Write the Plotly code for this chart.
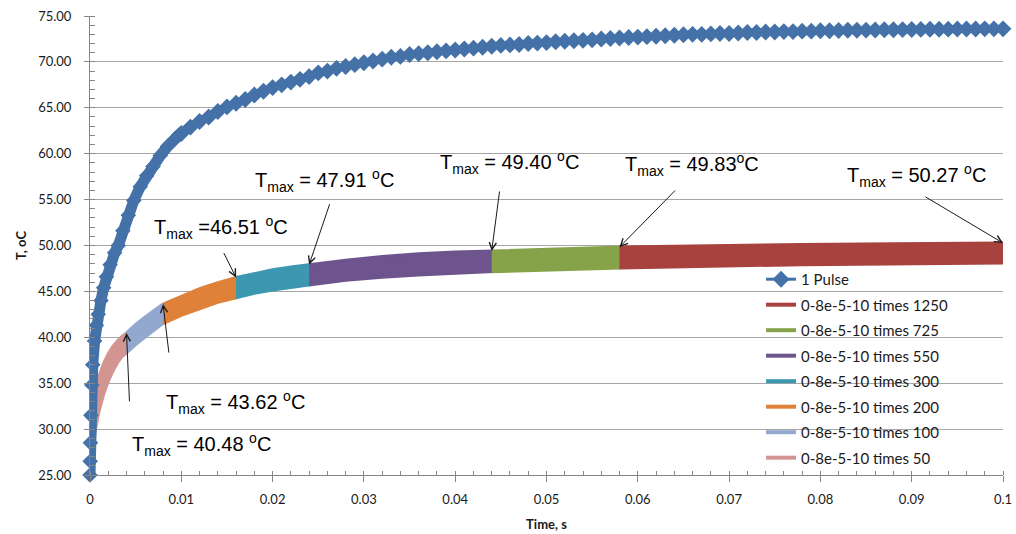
import plotly.graph_objects as go

# ---------------- data ----------------
# 1 Pulse : dense early part
pulse_t_dense = [0.0, 0.00002, 0.00005, 0.0001, 0.0002, 0.0003, 0.0005, 0.0007, 0.0009,
                 0.0012, 0.0015, 0.0018, 0.0022, 0.0027, 0.0031, 0.0036, 0.0042, 0.0048, 0.0055,
                 0.0062, 0.0069, 0.0077, 0.0085, 0.0093, 0.0097]
pulse_T_dense = [25.0, 26.5, 28.5, 31.5, 34.8, 37.0, 39.6, 41.3, 42.5,
                 44.0, 45.4, 46.6, 47.9, 49.2, 50.0, 51.6, 53.3, 54.9, 56.4,
                 57.6, 58.6, 59.8, 60.8, 61.6, 62.0]
# 1 Pulse : sampled every 1 ms afterwards
pulse_t = [0.010, 0.011, 0.012, 0.013, 0.014, 0.015, 0.016, 0.017, 0.018, 0.019,
           0.020, 0.021, 0.022, 0.023, 0.024, 0.025, 0.026, 0.027, 0.028, 0.029,
           0.030, 0.031, 0.032, 0.033, 0.034, 0.035, 0.036, 0.037, 0.038, 0.039,
           0.040, 0.041, 0.042, 0.043, 0.044, 0.045, 0.046, 0.047, 0.048, 0.049,
           0.050, 0.051, 0.052, 0.053, 0.054, 0.055, 0.056, 0.057, 0.058, 0.059,
           0.060, 0.061, 0.062, 0.063, 0.064, 0.065, 0.066, 0.067, 0.068, 0.069,
           0.070, 0.071, 0.072, 0.073, 0.074, 0.075, 0.076, 0.077, 0.078, 0.079,
           0.080, 0.081, 0.082, 0.083, 0.084, 0.085, 0.086, 0.087, 0.088, 0.089,
           0.090, 0.091, 0.092, 0.093, 0.094, 0.095, 0.096, 0.097, 0.098, 0.099, 0.100]
pulse_T = [62.2, 62.9, 63.5, 64.0, 64.6, 65.1, 65.5, 65.9, 66.4, 66.8,
           67.2, 67.5, 67.8, 68.1, 68.4, 68.8, 69.0, 69.3, 69.5, 69.7,
           69.9, 70.1, 70.3, 70.5, 70.6, 70.8, 70.9, 71.0, 71.1, 71.2,
           71.3, 71.4, 71.5, 71.6, 71.7, 71.8, 71.85, 71.9, 72.0, 72.05,
           72.1, 72.2, 72.25, 72.3, 72.35, 72.4, 72.5, 72.55, 72.6, 72.65,
           72.7, 72.75, 72.8, 72.85, 72.9, 72.95, 73.0, 73.0, 73.05, 73.1,
           73.1, 73.15, 73.2, 73.2, 73.25, 73.25, 73.3, 73.3, 73.35, 73.35,
           73.4, 73.4, 73.42, 73.44, 73.45, 73.46, 73.48, 73.5, 73.5, 73.52,
           73.53, 73.54, 73.55, 73.56, 73.57, 73.58, 73.58, 73.59, 73.6, 73.6, 73.6]

# pulse-train segments: time, upper (max) and lower (min) envelope
seg_names = ["0-8e-5-10 times 50", "0-8e-5-10 times 100", "0-8e-5-10 times 200",
             "0-8e-5-10 times 300", "0-8e-5-10 times 550", "0-8e-5-10 times 725",
             "0-8e-5-10 times 1250"]
seg_t = [
    [0.0, 0.0001, 0.0003, 0.0006, 0.001, 0.0015, 0.002, 0.0025, 0.003, 0.0035, 0.004],
    [0.004, 0.005, 0.006, 0.007, 0.008],
    [0.008, 0.010, 0.012, 0.014, 0.016],
    [0.016, 0.018, 0.020, 0.022, 0.024],
    [0.024, 0.028, 0.032, 0.036, 0.040, 0.044],
    [0.044, 0.049, 0.054, 0.058],
    [0.058, 0.068, 0.078, 0.088, 0.100],
]
seg_upper = [
    [26.5, 29.5, 32.0, 34.0, 35.8, 37.2, 38.2, 39.0, 39.6, 40.1, 40.48],
    [40.48, 41.4, 42.2, 42.95, 43.62],
    [43.62, 44.5, 45.3, 45.95, 46.51],
    [46.51, 46.95, 47.35, 47.65, 47.91],
    [47.91, 48.4, 48.8, 49.1, 49.3, 49.40],
    [49.40, 49.55, 49.7, 49.83],
    [49.83, 50.0, 50.12, 50.2, 50.27],
]
seg_lower = [
    [25.8, 26.5, 28.0, 30.0, 32.0, 33.8, 35.2, 36.3, 37.2, 37.9, 38.3],
    [38.3, 39.2, 40.0, 40.8, 41.5],
    [41.5, 42.4, 43.1, 43.8, 44.3],
    [44.3, 44.8, 45.15, 45.45, 45.7],
    [45.7, 46.2, 46.55, 46.8, 47.0, 47.15],
    [47.15, 47.3, 47.45, 47.55],
    [47.55, 47.75, 47.9, 48.0, 48.1],
]
seg_colors = ["#D39592", "#93A8CE", "#DF8139", "#3C97B0", "#6E548D", "#86A349", "#A8423F"]

# Tmax labels
tmax_t = [0.004, 0.008, 0.016, 0.024, 0.044, 0.058, 0.100]
tmax_vals = [40.48, 43.62, 46.51, 47.91, 49.40, 49.83, 50.27]
tmax_text = ["T<sub>max</sub> = 40.48 <sup>o</sup>C", "T<sub>max</sub> = 43.62 <sup>o</sup>C",
             "T<sub>max</sub> =46.51 <sup>o</sup>C", "T<sub>max</sub> = 47.91 <sup>o</sup>C",
             "T<sub>max</sub> = 49.40 <sup>o</sup>C", "T<sub>max</sub> = 49.83<sup>o</sup>C",
             "T<sub>max</sub> = 50.27 <sup>o</sup>C"]
# label centre positions (data coords) and arrow tail offsets (px)
label_x = [0.01216, 0.0159, 0.01435, 0.0257, 0.046, 0.0659, 0.0905]
label_y = [28.27, 32.85, 52.0, 57.1, 59.0, 58.77, 57.68]
arrow_ax = [3, 6, -13, 21, 8, 57, -79]
arrow_ay = [70, 50, -26, -62, -61, -58, -47]

BLUE = "#4472A8"

fig = go.Figure()

# bands (drawn first, underneath)
for name, t, up, lo, col in zip(seg_names, seg_t, seg_upper, seg_lower, seg_colors):
    fig.add_trace(go.Scatter(
        x=t + t[::-1], y=up + lo[::-1], mode="lines", fill="toself",
        fillcolor=col, line=dict(color=col, width=3), showlegend=False,
        hoverinfo="skip"))

# 1 Pulse dense part
fig.add_trace(go.Scatter(
    x=pulse_t_dense, y=pulse_T_dense, mode="lines+markers",
    line=dict(color=BLUE, width=11), marker=dict(symbol="diamond", size=12, color=BLUE),
    showlegend=False, cliponaxis=False))
# 1 Pulse sparse part (legend)
fig.add_trace(go.Scatter(
    x=pulse_t, y=pulse_T, mode="lines+markers", name="1 Pulse",
    line=dict(color=BLUE, width=3), marker=dict(symbol="diamond", size=13, color=BLUE),
    legendgroup="g0", cliponaxis=False))

# legend entries for bands (reverse order, 1250 first)
for i, (name, col) in enumerate(reversed(list(zip(seg_names, seg_colors)))):
    fig.add_trace(go.Scatter(
        x=[None], y=[None], mode="lines", name=name,
        line=dict(color=col, width=4), legendgroup="g%d" % (i + 1)))

annotations = []
for lx, ly, txt in zip(label_x, label_y, tmax_text):
    annotations.append(dict(x=lx, y=ly, xref="x", yref="y", text=txt, showarrow=False,
                            font=dict(family="Liberation Sans, Arial", size=20, color="#000000")))
for tx, ty, ax, ay in zip(tmax_t, tmax_vals, arrow_ax, arrow_ay):
    annotations.append(dict(x=tx, y=ty, xref="x", yref="y", text="", showarrow=True,
                            ax=ax, ay=ay, arrowhead=5, arrowsize=1.4, arrowwidth=1,
                            arrowcolor="#1a1a1a"))

fig.update_layout(
    width=1016, height=534,
    margin=dict(l=90, r=13, t=16, b=59),
    paper_bgcolor="white", plot_bgcolor="white",
    font=dict(family="Lato, Calibri, sans-serif", size=13, color="#1a1a1a"),
    showlegend=True,
    legend=dict(x=0.735, y=0.462, xanchor="left", yanchor="top",
                bgcolor="rgba(0,0,0,0)", font=dict(size=15, color="#1a1a1a"),
                tracegroupgap=3, traceorder="grouped"),
    annotations=annotations,
    xaxis=dict(range=[0, 0.1], tickvals=[0, 0.01, 0.02, 0.03, 0.04, 0.05, 0.06, 0.07, 0.08, 0.09, 0.1],
               ticktext=["0", "0.01", "0.02", "0.03", "0.04", "0.05", "0.06", "0.07", "0.08", "0.09", "0.1"],
               showgrid=False, zeroline=False, showline=True, linecolor="#868686", linewidth=1,
               ticks="outside", ticklen=6, tickcolor="#868686", automargin=False,
               minor=dict(dtick=0.002, tick0=0, ticks="inside", ticklen=4, tickcolor="#868686", showgrid=False),
               title=dict(text="<b>Time, s</b>", font=dict(size=13), standoff=14),
               ticklabelstandoff=6, fixedrange=True),
    yaxis=dict(range=[25, 75], dtick=5, tickformat=".2f",
               showgrid=True, gridcolor="#A6A6A6", gridwidth=1, zeroline=False,
               showline=True, linecolor="#868686", linewidth=1,
               ticks="outside", ticklen=5, tickcolor="#868686", automargin=False,
               minor=dict(dtick=1, ticks="inside", ticklen=5, tickcolor="#868686", showgrid=False),
               title=dict(text="<b>T, oC</b>", font=dict(size=13), standoff=8),
               ticklabelstandoff=10, fixedrange=True),
)

fig.write_html("out.html", config={"displayModeBar": False},
               post_script="document.body.style.margin='0px';document.body.style.overflow='hidden';")
